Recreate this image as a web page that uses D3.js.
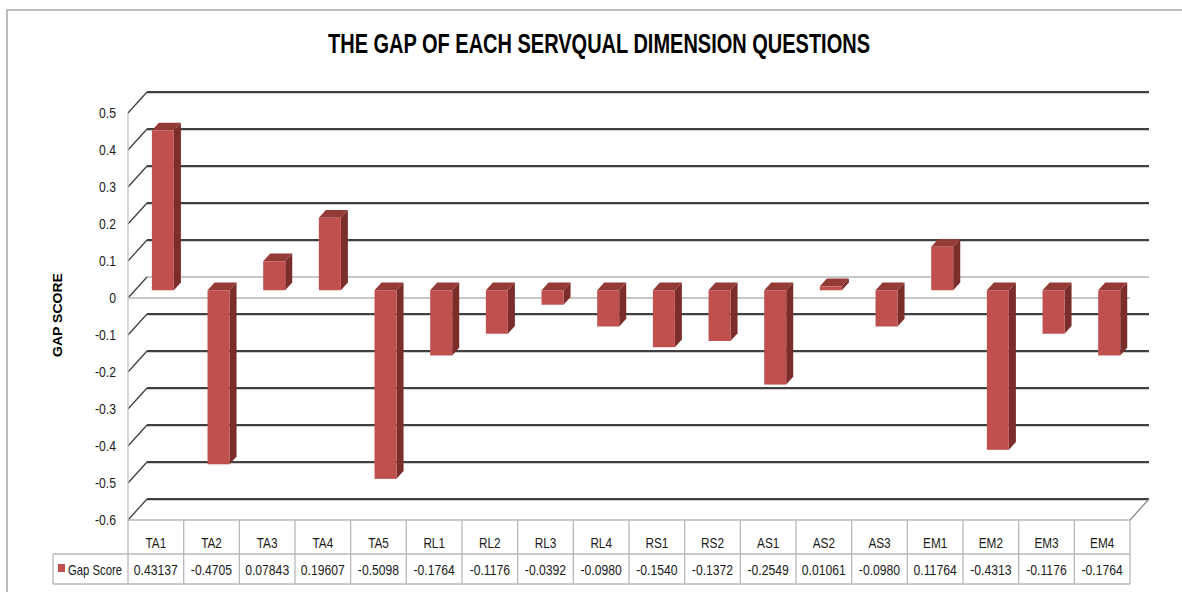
<!DOCTYPE html>
<html>
<head>
<meta charset="utf-8">
<script src="https://cdn.jsdelivr.net/npm/d3@7/dist/d3.min.js"></script>
<style>
  html, body { margin: 0; padding: 0; background: #ffffff; }
  svg { display: block; }
</style>
</head>
<body>
<svg id="chart" width="1182" height="592"></svg>
<script>
// ---- data ----
const categories = ["TA1","TA2","TA3","TA4","TA5","RL1","RL2","RL3","RL4","RS1","RS2","AS1","AS2","AS3","EM1","EM2","EM3","EM4"];
const gapScores = [0.43137,-0.4705,0.07843,0.19607,-0.5098,-0.1764,-0.1176,-0.0392,-0.0980,-0.1540,-0.1372,-0.2549,0.01061,-0.0980,0.11764,-0.4313,-0.1176,-0.1764];
const valueLabels = ["0.43137","-0.4705","0.07843","0.19607","-0.5098","-0.1764","-0.1176","-0.0392","-0.0980","-0.1540","-0.1372","-0.2549","0.01061","-0.0980","0.11764","-0.4313","-0.1176","-0.1764"];
const yTicks = [0.5,0.4,0.3,0.2,0.1,0,-0.1,-0.2,-0.3,-0.4,-0.5,-0.6];
const yTickLabels = ["0.5","0.4","0.3","0.2","0.1","0","-0.1","-0.2","-0.3","-0.4","-0.5","-0.6"];
const seriesName = "Gap Score";
const titleText = "THE GAP OF EACH SERVQUAL DIMENSION QUESTIONS";
const yTitle = "GAP SCORE";

(function () {
// ---- layout ----
const svg = d3.select("#chart");
const FONT = "'Liberation Sans', Arial, sans-serif";
const NARROW = 0.84; // horizontal compression to imitate a narrow font
const plotL = 128, plotR = 1130, plotT = 113, plotB = 520;
const DX = 19, DY = -21;          // depth projection (back wall offset)
const zFront = 0.37, zBack = 0.74; // bar depth range
const barW = 22;

const y = d3.scaleLinear().domain([-0.6, 0.5]).range([plotB, plotT]);
const x = d3.scaleBand().domain(categories).range([plotL, plotR]).padding(0);

const P = (px, py, z) => [px + z * DX, py + z * DY];

function narrow(sel) {
  sel.each(function () {
    const w = this.getComputedTextLength();
    if (w > 0) d3.select(this).attr("textLength", w * NARROW).attr("lengthAdjust", "spacingAndGlyphs");
  });
}

// outer chart border
svg.append("path")
  .attr("d", `M7,592 L7,10 L1182,10`)
  .attr("fill", "none").attr("stroke", "#a6a6a6").attr("stroke-width", 1.5);

// title
svg.append("text")
  .attr("x", 599).attr("y", 53)
  .attr("text-anchor", "middle")
  .attr("font-family", FONT).attr("font-weight", "bold")
  .attr("font-size", 27).attr("fill", "#000")
  .attr("textLength", 542).attr("lengthAdjust", "spacingAndGlyphs")
  .text(titleText);

// y axis title
svg.append("text")
  .attr("transform", "translate(62,315) rotate(-90)")
  .attr("text-anchor", "middle")
  .attr("font-family", FONT).attr("font-weight", "bold")
  .attr("font-size", 12.5).attr("fill", "#000")
  .attr("textLength", 84).attr("lengthAdjust", "spacingAndGlyphs")
  .text(yTitle);

// back wall gridlines + left wall diagonals
const grid = svg.append("g");
yTicks.forEach(v => {
  const [bx0, by] = P(plotL, y(v), 1);
  const [bx1] = P(plotR, y(v), 1);
  const isZero = v === 0;
  if (!isZero) {
    grid.append("line").attr("x1", bx0).attr("x2", bx1).attr("y1", by + 1.5).attr("y2", by + 1.5)
      .attr("stroke", "#cfcfcf").attr("stroke-width", 1.2);
  }
  grid.append("line").attr("x1", bx0).attr("x2", bx1).attr("y1", by).attr("y2", by)
    .attr("stroke", isZero ? "#b5b5b5" : "#404040").attr("stroke-width", isZero ? 1.5 : 2);
  grid.append("line").attr("x1", plotL).attr("y1", y(v)).attr("x2", bx0).attr("y2", by)
    .attr("stroke", "#404040").attr("stroke-width", 1.3);
});

// floor right edge
{
  const [bx, by] = P(plotR, y(-0.6), 1);
  grid.append("line").attr("x1", plotR).attr("y1", y(-0.6)).attr("x2", bx).attr("y2", by)
    .attr("stroke", "#8c8c8c").attr("stroke-width", 1.3);
}

// front vertical axis
svg.append("line").attr("x1", plotL).attr("x2", plotL).attr("y1", plotT).attr("y2", plotB)
  .attr("stroke", "#bfbfbf").attr("stroke-width", 1.2);
// front zero line
svg.append("line").attr("x1", plotL).attr("x2", plotR).attr("y1", y(0)).attr("y2", y(0))
  .attr("stroke", "#b5b5b5").attr("stroke-width", 1.5);

// tick labels
svg.append("g").selectAll("text").data(yTicks).join("text")
  .attr("x", 116).attr("y", d => y(d) + 5)
  .attr("text-anchor", "end")
  .attr("font-family", FONT).attr("font-size", 14.5).attr("fill", "#1a1a1a")
  .text((d, i) => yTickLabels[i])
  .call(narrow);

// bars
const bars = svg.append("g");
categories.forEach((c, i) => {
  const v = gapScores[i];
  const cx = x(c) + x.bandwidth() / 2;
  const x0 = cx - barW / 2, x1 = cx + barW / 2;
  const yTop = y(Math.max(v, 0)), yBot = y(Math.min(v, 0));
  const f = (px, py) => P(px, py, zFront);
  const b = (px, py) => P(px, py, zBack);
  const poly = pts => "M" + pts.map(p => p.join(",")).join("L") + "Z";
  bars.append("path").attr("d", poly([f(x1, yTop), b(x1, yTop), b(x1, yBot), f(x1, yBot)]))
    .attr("fill", "#7a2d2b");
  bars.append("path").attr("d", poly([f(x0, yTop), b(x0, yTop), b(x1, yTop), f(x1, yTop)]))
    .attr("fill", "#943a37");
  const [fx0, fy0] = f(x0, yTop);
  bars.append("rect").attr("x", fx0).attr("y", fy0).attr("width", barW).attr("height", Math.max(yBot - yTop, 0.5))
    .attr("fill", "#c0504d");
});

// data table
const tbl = svg.append("g");
const lineC = "#b8b8b8";
const rowMid = 554, rowBot = 584, legLeft = 53;
tbl.append("line").attr("x1", plotL).attr("x2", plotR).attr("y1", plotB).attr("y2", plotB).attr("stroke", lineC).attr("stroke-width", 1.3);
tbl.append("line").attr("x1", legLeft).attr("x2", plotR).attr("y1", rowMid).attr("y2", rowMid).attr("stroke", lineC).attr("stroke-width", 1.3);
tbl.append("line").attr("x1", legLeft).attr("x2", plotR).attr("y1", rowBot).attr("y2", rowBot).attr("stroke", lineC).attr("stroke-width", 1.3);
tbl.append("line").attr("x1", legLeft).attr("x2", legLeft).attr("y1", rowMid).attr("y2", rowBot).attr("stroke", lineC).attr("stroke-width", 1.3);
categories.concat([null]).forEach((c) => {
  const xx = c === null ? plotR : x(c);
  tbl.append("line").attr("x1", xx).attr("x2", xx).attr("y1", plotB).attr("y2", rowBot).attr("stroke", lineC).attr("stroke-width", 1.3);
});
tbl.selectAll("text.cat").data(categories).join("text").attr("class", "cat")
  .attr("x", d => x(d) + x.bandwidth() / 2).attr("y", 548)
  .attr("text-anchor", "middle").attr("font-family", FONT).attr("font-size", 14).attr("fill", "#1a1a1a")
  .text(d => d)
  .call(narrow);
tbl.selectAll("text.val").data(categories).join("text").attr("class", "val")
  .attr("x", d => x(d) + x.bandwidth() / 2).attr("y", 575)
  .attr("text-anchor", "middle").attr("font-family", FONT).attr("font-size", 14.5).attr("fill", "#1a1a1a")
  .text((d, i) => valueLabels[i])
  .call(narrow);
tbl.append("rect").attr("x", 58).attr("y", 564).attr("width", 7).attr("height", 8).attr("fill", "#c0504d");
tbl.append("text").attr("x", 68).attr("y", 575)
  .attr("font-family", FONT).attr("font-size", 14.5).attr("fill", "#1a1a1a").text(seriesName)
  .attr("textLength", 54).attr("lengthAdjust", "spacingAndGlyphs");
})();
</script>
</body>
</html>
